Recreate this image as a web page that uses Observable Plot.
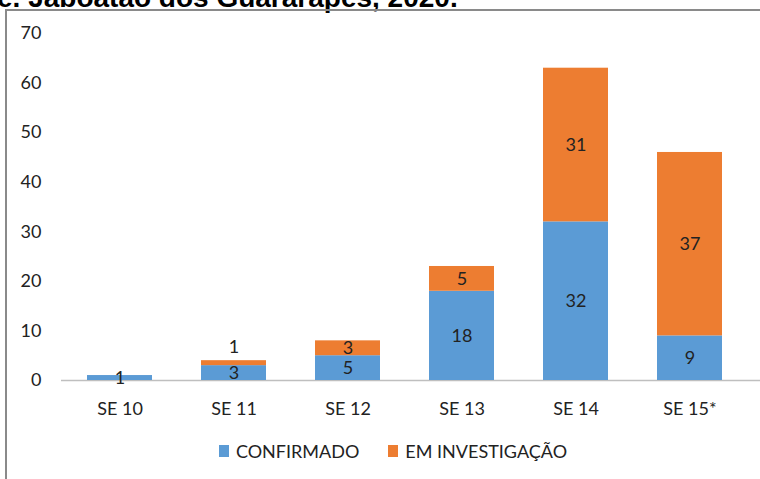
<!DOCTYPE html>
<html>
<head>
<meta charset="utf-8">
<script src="https://cdn.jsdelivr.net/npm/d3@7"></script>
<script src="https://cdn.jsdelivr.net/npm/@observablehq/plot@0.6"></script>
<style>
  html, body { margin: 0; padding: 0; background: #fff; }
  #wrap { position: relative; width: 760px; height: 479px; overflow: hidden; background: #fff; font-family: Lato, "Open Sans", sans-serif; }
  #title { position: absolute; left: -3px; top: -18px; white-space: nowrap; font: bold 28px "Liberation Sans", Arial, sans-serif; color: #000; }
  #frame { position: absolute; left: 5px; top: 9px; width: 900px; height: 600px; border-top: 2px solid #8a8a8a; border-left: 2px solid #8a8a8a; }
  #chart { position: absolute; left: 0; top: 0; }
  #legend { position: absolute; left: 0; top: 440px; width: 786px; display: flex; justify-content: center; gap: 29px; font-size: 18px; color: #222; }
  .item { display: flex; align-items: center; gap: 7px; }
  .sw { width: 10px; height: 12px; display: inline-block; }
</style>
</head>
<body>
<div id="wrap">
  <div id="title">e. Jaboatão dos Guararapes, 2020.</div>
  <div id="frame"></div>
  <div id="chart"></div>
  <div id="legend"></div>
</div>
<script>
const semanas = ["SE 10", "SE 11", "SE 12", "SE 13", "SE 14", "SE 15*"];
const confirmado = [1, 3, 5, 18, 32, 9];
const investigacao = [0, 1, 3, 5, 31, 37];
const series = ["CONFIRMADO", "EM INVESTIGAÇÃO"];
const colors = ["#5B9BD5", "#ED7D31"];
const yTicks = [0, 10, 20, 30, 40, 50, 60, 70];

const rows = [];
semanas.forEach((s, i) => {
  rows.push({semana: s, serie: series[0], v: confirmado[i], total: confirmado[i] + investigacao[i]});
  rows.push({semana: s, serie: series[1], v: investigacao[i], total: confirmado[i] + investigacao[i]});
});
const inner = rows.filter(d => d.v > 0 && !(d.serie === series[1] && d.v < 2));
const above = rows.filter(d => d.v > 0 && d.serie === series[1] && d.v < 2);

const chart = Plot.plot({
  width: 760,
  height: 420,
  marginTop: 33,
  marginBottom: 40,
  marginLeft: 61,
  marginRight: 0,
  style: {fontFamily: "Lato, 'Open Sans', sans-serif", fontSize: "18px", color: "#222", background: "transparent"},
  x: {domain: semanas, range: [61, 748], paddingInner: 0.433, paddingOuter: 0.214, label: null, tickSize: 0, tickPadding: 22},
  y: {domain: [0, 70], ticks: yTicks, label: null, tickSize: 0, tickPadding: 20},
  color: {domain: series, range: colors},
  marks: [
    Plot.ruleY([0], {stroke: "#bfbfbf", strokeWidth: 1.5}),
    Plot.barY(rows, {x: "semana", y: "v", fill: "serie", order: series}),
    Plot.text(inner, Plot.stackY({x: "semana", y: "v", z: "serie", order: series, text: d => String(d.v), fill: "#222", fontSize: 18})),
    Plot.text(above, {x: "semana", y: "total", text: d => String(d.v), fill: "#222", fontSize: 18, dy: -13})
  ]
});
document.getElementById("chart").appendChild(chart);

const legend = document.getElementById("legend");
series.forEach((s, i) => {
  const it = document.createElement("div");
  it.className = "item";
  const sw = document.createElement("span");
  sw.className = "sw";
  sw.style.background = colors[i];
  const t = document.createElement("span");
  t.textContent = s;
  it.appendChild(sw);
  it.appendChild(t);
  legend.appendChild(it);
});
</script>
</body>
</html>
